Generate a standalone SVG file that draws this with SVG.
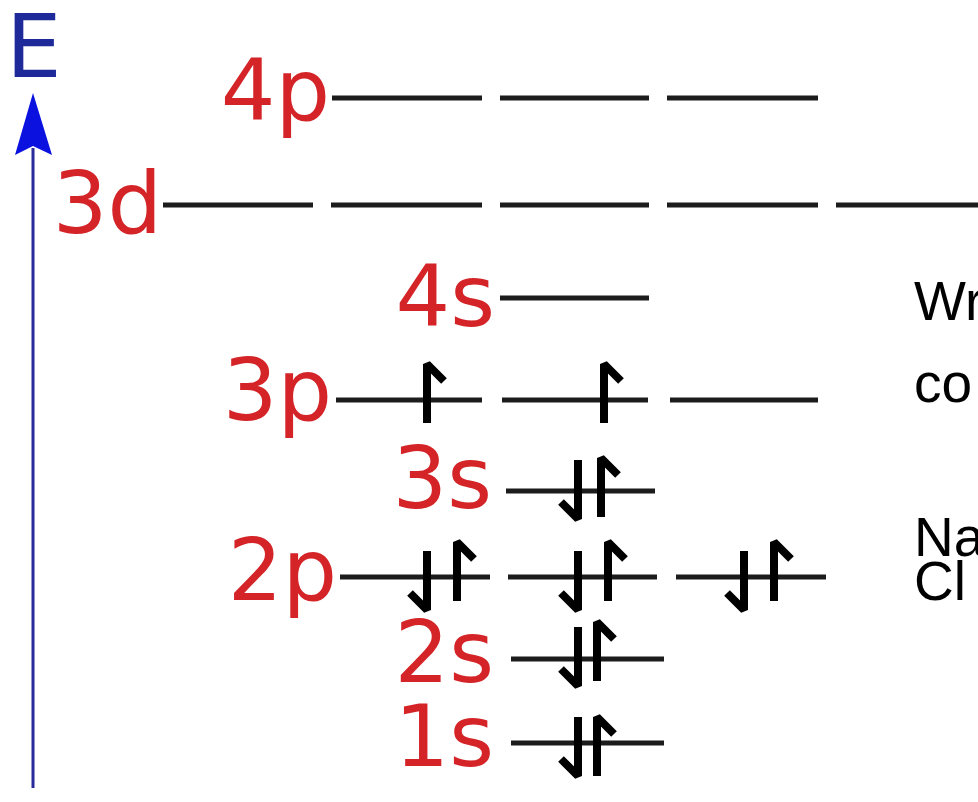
<svg xmlns="http://www.w3.org/2000/svg" width="978" height="802" viewBox="0 0 978 802">
<style>
.lbl{font-family:"DejaVu Sans",Verdana,sans-serif;font-size:86px;fill:#d42428;text-anchor:end}
.lvl{stroke:#1c1c1c;stroke-width:5;fill:none}
.e{fill:none;stroke:#000;stroke-width:8;stroke-linejoin:bevel}
.note{font-family:"Liberation Sans",Arial,sans-serif;font-size:55px;fill:#000}
</style>
<defs>
<path id="up" class="e" d="M17,17 L0,0 V59"/>
<path id="dn" class="e" d="M-17,42 L0,59 V0"/>
</defs>
<rect width="978" height="802" fill="#fff"/>

<g id="axis">
<line x1="33" y1="788" x2="33" y2="148" stroke="#2a2a9c" stroke-width="3"/>
<polygon points="33,93 52,155 33,146 15,155" fill="#0b12e0"/>
<text x="6" y="77" font-family="DejaVu Sans,Verdana,sans-serif" font-size="88" fill="#1f2a9a">E</text>
</g>

<g id="level-4p">
<text class="lbl" x="330" y="120">4p</text>
<path class="lvl" d="M332,98H482M500,98H649M667,98H818"/>
</g>
<g id="level-3d">
<text class="lbl" x="162" y="233">3d</text>
<path class="lvl" d="M163,205H313M331,205H482M500,205H649M667,205H818M836,205H980"/>
</g>
<g id="level-4s">
<text class="lbl" x="495" y="326">4s</text>
<path class="lvl" d="M500,298H649"/>
</g>
<g id="level-3p">
<text class="lbl" x="332" y="420">3p</text>
<path class="lvl" d="M336,400H482M502,400H648M670,400H818"/>
<use href="#up" x="427" y="364"/>
<use href="#up" x="604" y="364"/>
</g>
<g id="level-3s">
<text class="lbl" x="492" y="508">3s</text>
<path class="lvl" d="M506,491H655"/>
<use href="#dn" x="578" y="460"/>
<use href="#up" x="601" y="458"/>
</g>
<g id="level-2p">
<text class="lbl" x="337" y="600">2p</text>
<path class="lvl" d="M340,577H490M508,577H657M676,577H826"/>
<use href="#dn" x="427" y="551"/>
<use href="#up" x="457" y="542"/>
<use href="#dn" x="578" y="551"/>
<use href="#up" x="608" y="542"/>
<use href="#dn" x="744" y="551"/>
<use href="#up" x="774" y="542"/>
</g>
<g id="level-2s">
<text class="lbl" x="494" y="682">2s</text>
<path class="lvl" d="M511,659H664"/>
<use href="#dn" x="578" y="627"/>
<use href="#up" x="597" y="622"/>
</g>
<g id="level-1s">
<text class="lbl" x="494" y="766">1s</text>
<path class="lvl" d="M511,743H664"/>
<use href="#dn" x="578" y="717"/>
<use href="#up" x="597" y="717"/>
</g>

<g id="notes">
<text class="note" x="914" y="320">Wr</text>
<text class="note" x="914" y="402">co</text>
<text class="note" x="914" y="556">Na</text>
<text class="note" x="914" y="600">Cl</text>
</g>
</svg>
